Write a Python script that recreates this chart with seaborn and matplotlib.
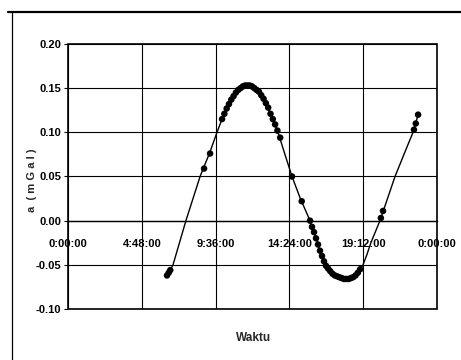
import matplotlib
matplotlib.use("Agg")
import matplotlib.pyplot as plt
from matplotlib.lines import Line2D
from matplotlib.patches import Rectangle
from matplotlib import font_manager
import seaborn as sns
import pandas as pd

# Tidal gravity correction over one day (hours since midnight, mGal): curve
curve_hours = [6.44, 6.83, 7.67, 8.59, 9.24, 9.69, 10.02, 10.30, 10.54, 10.80,
               11.06, 11.35, 11.64, 11.90, 12.16, 12.40, 12.62, 12.90, 13.14,
               13.66, 14.11, 14.57, 15.09, 15.74, 16.19, 16.45, 16.72, 17.00,
               17.24, 17.69, 18.15, 18.67, 18.95, 19.19, 19.45, 19.70, 20.29,
               20.78, 21.27, 21.85, 22.44, 22.77]
curve_values = [-0.062, -0.050, 0.000, 0.050, 0.078, 0.100, 0.115, 0.126,
                0.136, 0.143, 0.148, 0.152, 0.153, 0.153, 0.150, 0.146, 0.141,
                0.132, 0.122, 0.100, 0.075, 0.050, 0.026, 0.000, -0.023,
                -0.038, -0.050, -0.056, -0.061, -0.065, -0.066, -0.062,
                -0.057, -0.050, -0.038, -0.025, 0.000, 0.025, 0.050, 0.075,
                0.100, 0.120]

# Individual readings along the curve
reading_hours = [6.44, 6.55, 6.65, 8.85, 9.24,
                 10.02, 10.17, 10.32, 10.47, 10.62, 10.77, 10.92, 11.07, 11.22,
                 11.37, 11.52, 11.67, 11.82, 11.97, 12.12, 12.27, 12.42, 12.57,
                 12.72, 12.87, 13.02, 13.17, 13.32, 13.47, 13.62, 13.8,
                 14.57, 15.2,
                 15.74, 15.87, 16.0, 16.13, 16.26, 16.39, 16.52, 16.65, 16.78,
                 16.91, 17.05, 17.2, 17.35, 17.5, 17.65, 17.8, 17.95, 18.1,
                 18.25, 18.4, 18.55, 18.7, 18.85, 19.0,
                 20.35, 20.49, 22.5, 22.62, 22.77]
reading_values = [-0.062, -0.059, -0.056, 0.059, 0.076,
                  0.115, 0.121, 0.127, 0.132, 0.137, 0.141, 0.145, 0.148,
                  0.150, 0.152, 0.153, 0.153, 0.153, 0.152, 0.150, 0.148,
                  0.146, 0.142, 0.138, 0.133, 0.128, 0.121, 0.115, 0.109,
                  0.102, 0.094,
                  0.050, 0.022,
                  0.000, -0.007, -0.013, -0.020, -0.027, -0.034, -0.040,
                  -0.046, -0.051, -0.054, -0.057, -0.060, -0.062, -0.063,
                  -0.064, -0.065, -0.066, -0.066, -0.066, -0.065, -0.064,
                  -0.062, -0.059, -0.055,
                  0.003, 0.011, 0.103, 0.110, 0.120]

x_ticks = [0, 4.8, 9.6, 14.4, 19.2, 24]
x_tick_labels = ["0:00:00", "4:48:00", "9:36:00", "14:24:00", "19:12:00", "0:00:00"]
y_ticks = [-0.10, -0.05, 0.00, 0.05, 0.10, 0.15, 0.20]

curve = pd.DataFrame({"Waktu": curve_hours, "a": curve_values})
readings = pd.DataFrame({"Waktu": reading_hours, "a": reading_values})

sns.set_theme(style="white")
installed = {f.name for f in font_manager.fontManager.ttflist}
families = [f for f in ["Liberation Sans Narrow", "Liberation Sans"] if f in installed]
plt.rcParams["font.family"] = families + ["DejaVu Sans"]
plt.rcParams["font.weight"] = "bold"

fig = plt.figure(figsize=(4.61, 3.60), dpi=100)
ax = fig.add_axes([68 / 461, 1 - 309 / 360, (437 - 68) / 461, (309 - 44) / 360])

sns.lineplot(data=curve, x="Waktu", y="a", ax=ax, color="black",
             linewidth=1.0, sort=False, zorder=3)
sns.scatterplot(data=readings, x="Waktu", y="a", ax=ax, color="black",
                s=22, edgecolor="none", zorder=4)

ax.set_xlim(0, 24)
ax.set_ylim(-0.10, 0.20)
ax.set_xticks(x_ticks)
ax.set_xticklabels(x_tick_labels)
ax.set_yticks(y_ticks)
ax.set_yticklabels([f"{v:.2f}" for v in y_ticks])

ax.grid(True, color="black", linewidth=0.8)
ax.set_axisbelow(True)

# horizontal axis crosses at zero
for side in ["top", "right", "left"]:
    ax.spines[side].set_visible(False)
ax.spines["bottom"].set_position(("data", 0))
ax.spines["bottom"].set_color("black")
ax.spines["bottom"].set_linewidth(1.0)
ax.add_patch(Rectangle((0, 0), 1, 1, transform=ax.transAxes, fill=False,
                       edgecolor="black", linewidth=1.2, clip_on=False, zorder=5))

ax.tick_params(axis="x", length=0, pad=13, labelsize=8, colors="black")
ax.tick_params(axis="y", left=True, length=3, width=0.8, pad=2, labelsize=8,
               colors="black")
for lbl in ax.get_xticklabels() + ax.get_yticklabels():
    lbl.set_fontweight("bold")

ax.set_xlabel("")
ax.set_ylabel("")
fig.text(32 / 461, 1 - 180 / 360, "a  ( m G a l )", rotation=90, ha="center",
         va="center", fontsize=8, fontweight="bold")
fig.text(254 / 461, 1 - 338 / 360, "Waktu", ha="center", va="center",
         fontsize=8.5, fontweight="bold")

# chart-area border (top and left edges)
fig.add_artist(Line2D([8 / 461, 1.0], [1 - 11.5 / 360, 1 - 11.5 / 360],
                      transform=fig.transFigure, color="black", linewidth=1.6))
fig.add_artist(Line2D([12 / 461, 12 / 461], [1 - 11.5 / 360, 0.0],
                      transform=fig.transFigure, color="black", linewidth=0.9))

fig.savefig("out.png", dpi=100, facecolor="white")
